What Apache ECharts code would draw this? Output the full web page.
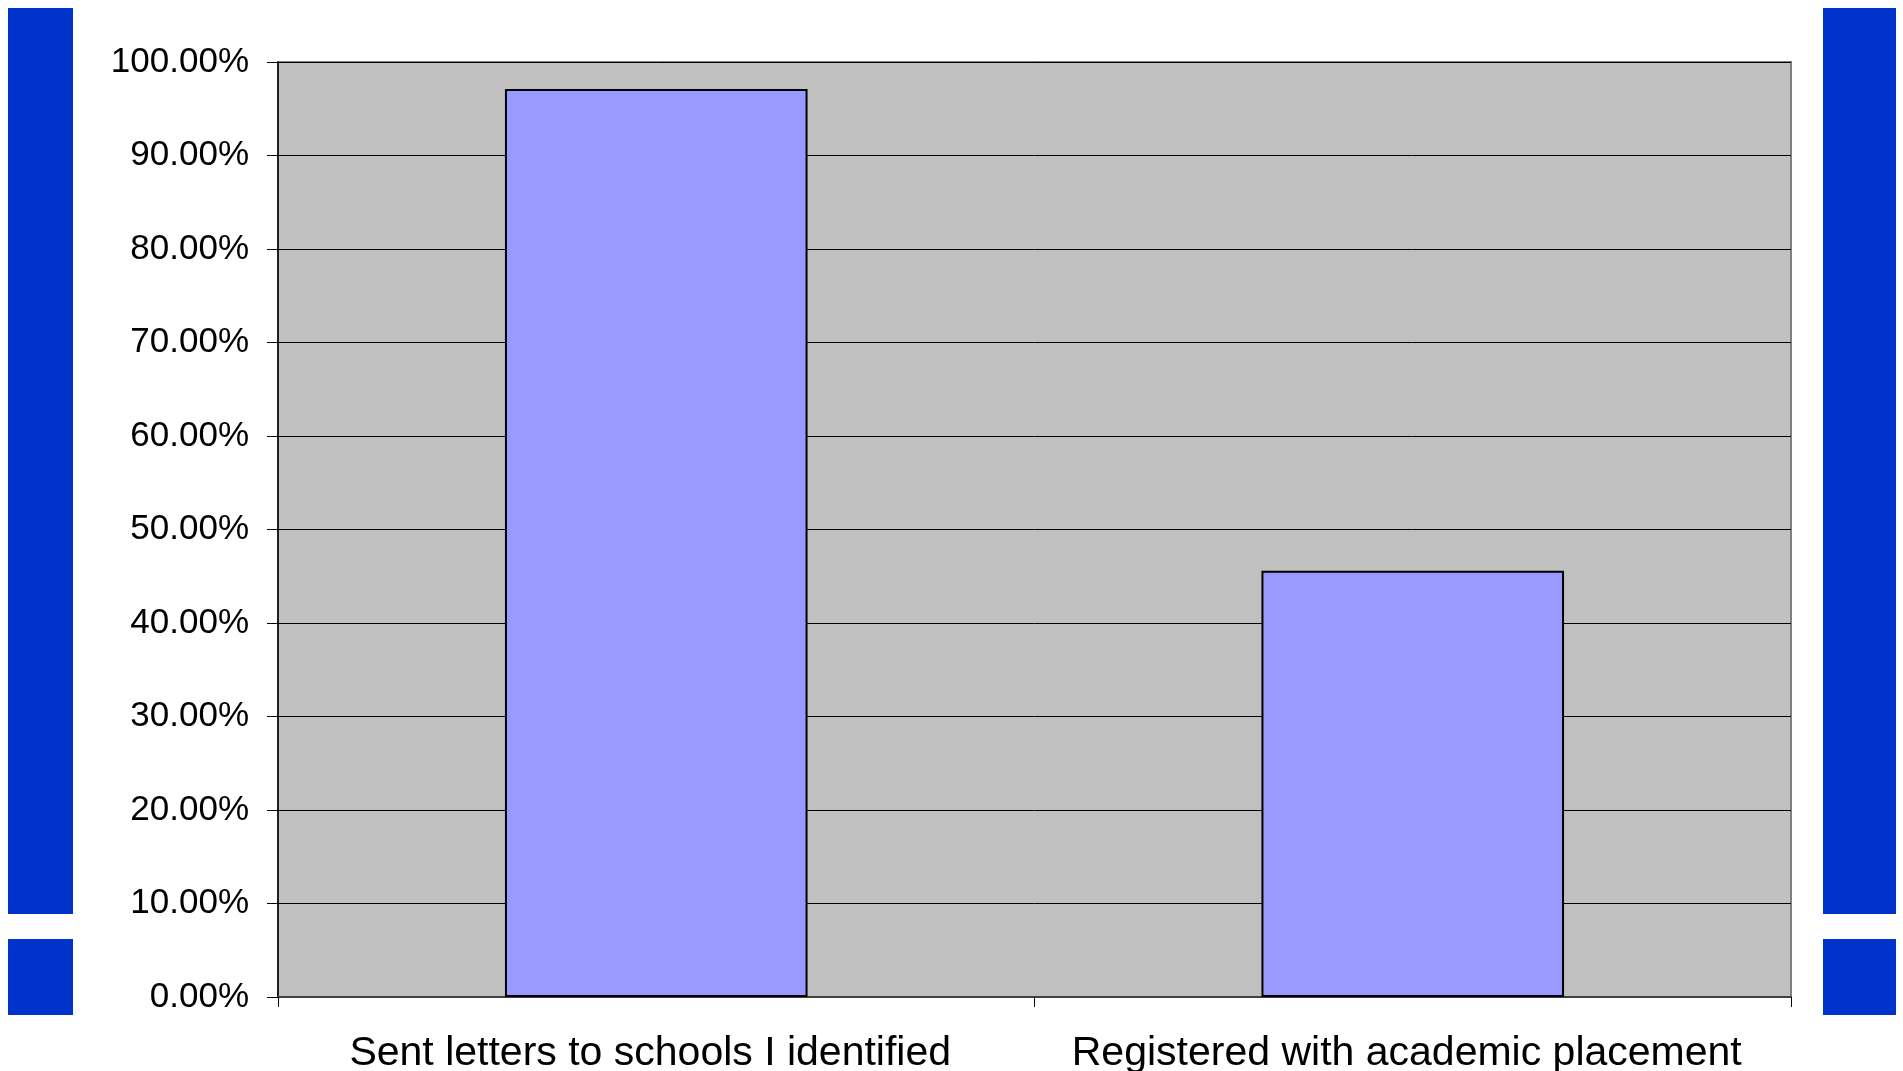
<!DOCTYPE html>
<html>
<head>
<meta charset="utf-8">
<script src="https://cdn.jsdelivr.net/npm/echarts@6/dist/echarts.min.js"></script>
<style>
html,body{margin:0;padding:0;background:#fff;}
#chart{width:1903px;height:1071px;}
</style>
</head>
<body>
<div id="chart"></div>
<script>
const categories = ['Sent letters to schools I identified', 'Registered with academic placement'];
const values = [97.1, 45.6];
const yTicks = [0, 10, 20, 30, 40, 50, 60, 70, 80, 90, 100];

const chart = echarts.init(document.getElementById('chart'));
const font = '"Liberation Sans", Arial, sans-serif';
chart.setOption({
  animation: false,
  graphic: [
    {type:'rect', shape:{x:8,y:8,width:65,height:906}, style:{fill:'#0033CC'}},
    {type:'rect', shape:{x:8,y:939,width:65,height:76}, style:{fill:'#0033CC'}},
    {type:'rect', shape:{x:1823,y:8,width:73,height:906}, style:{fill:'#0033CC'}},
    {type:'rect', shape:{x:1823,y:939,width:73,height:76}, style:{fill:'#0033CC'}}
  ],
  grid: {
    left: 278, right: 112, top: 62, bottom: 74,
    outerBoundsMode: 'none', containLabel: false,
    show: true, backgroundColor: '#C0C0C0', borderColor: '#808080', borderWidth: 2
  },
  xAxis: {
    type: 'category',
    data: categories,
    boundaryGap: true,
    axisLine: {lineStyle: {color: '#404040', width: 2}},
    axisTick: {show: true, interval: 0, length: 10, lineStyle: {color: '#000', width: 1}},
    axisLabel: {color: '#000', fontFamily: font, fontSize: 41, margin: 36, interval: 0, hideOverlap: false, padding: [0, 12, 0, 0]}
  },
  yAxis: {
    type: 'value',
    min: yTicks[0], max: yTicks[yTicks.length - 1], interval: 10,
    axisLine: {show: true, lineStyle: {color: '#000', width: 1.5}},
    axisTick: {show: true, length: 11, lineStyle: {color: '#000', width: 1}},
    splitLine: {show: true, lineStyle: {color: '#000', width: 1}},
    axisLabel: {
      color: '#000', fontFamily: font, fontSize: 35, margin: 29,
      formatter: v => v.toFixed(2) + '%'
    }
  },
  series: [{
    type: 'bar',
    data: values,
    barWidth: '40%',
    itemStyle: {color: '#9999FF', borderColor: '#000', borderWidth: 2}
  }]
});
</script>
</body>
</html>
